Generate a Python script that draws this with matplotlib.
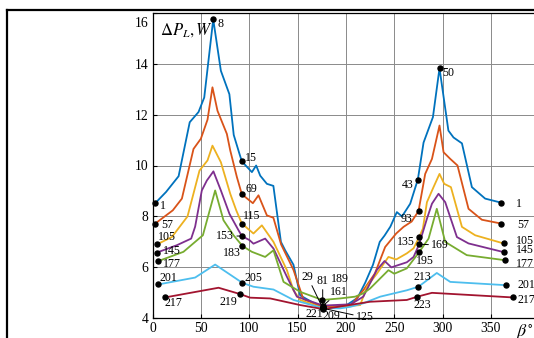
import matplotlib
matplotlib.use('Agg')
import matplotlib.pyplot as plt
from matplotlib.lines import Line2D

plt.rcParams['font.family'] = ['Liberation Serif', 'DejaVu Serif']
plt.rcParams['mathtext.fontset'] = 'stix'

# ---- data (beta in degrees, loss in W) ----
x1 = [2.8, 14, 27, 38.5, 47.6, 53.5, 62.8, 70.7, 79.5, 84, 90, 92.4, 102.8, 107.2, 111.4, 118.3, 125,
      132.8, 137.2, 145.8, 152.7, 176, 200, 212, 220, 228, 235, 240, 246, 252.7, 258, 266.5, 274.4,
      280.3, 290, 296.8, 306, 311.3, 320, 330.3, 344, 360.6]
y1 = [8.52, 8.96, 9.58, 11.7, 12.1, 12.67, 15.74, 13.72, 12.8, 11.2, 10.45, 10.16, 9.74, 10.0, 9.6, 9.28, 9.2,
      7.0, 6.67, 6.1, 4.9, 4.4, 4.5, 4.8, 5.4, 6.1, 7.0, 7.25, 7.6, 8.17, 8.0, 8.5, 9.45,
      10.9, 11.9, 13.82, 11.37, 11.1, 10.87, 9.15, 8.7, 8.54]
x2 = [2.8, 21, 30.4, 42.4, 50, 56.9, 62, 67.2, 76.9, 80.4, 87.3, 92.4, 103.8, 109.6, 118.3, 125, 133,
      145.8, 156, 176, 205, 218, 230, 240.6, 252, 259.6, 268, 275.1, 282, 289, 296.8, 301, 307.9,
      315.4, 326.8, 340.6, 360.6]
y2 = [7.72, 8.24, 8.7, 10.65, 11.05, 11.8, 13.07, 12.15, 11.24, 10.59, 9.54, 8.87, 8.52, 8.83, 8.04, 7.95, 6.9,
      5.9, 4.75, 4.45, 4.5, 5.1, 5.76, 6.8, 7.33, 7.59, 7.8, 8.21, 9.67, 10.26, 11.57, 10.52, 10.26,
      10.0, 8.3, 7.87, 7.72]
x3 = [4.5, 20, 36.2, 48.6, 56.9, 62, 70.7, 80.4, 86.6, 92.4, 104.4, 113.1, 125.1, 139, 145.8, 152.7,
      176.5, 214.8, 221.7, 232, 244, 252, 263, 270, 275.8, 279.6, 283.8, 290.6, 296.8, 301.7, 308.6,
      320, 333.7, 363]
y3 = [6.9, 7.19, 8.0, 9.8, 10.2, 10.78, 10.13, 8.89, 8.24, 7.72, 7.33, 7.65, 7.0, 5.89, 5.1, 4.72,
      4.39, 4.52, 5.24, 5.75, 6.41, 6.31, 6.55, 6.75, 7.19, 7.52, 8.56, 9.15, 9.67, 9.28, 9.15,
      7.59, 7.26, 6.94]
x4 = [4.5, 25.2, 40, 44.1, 51, 56.2, 63, 70.7, 79.6, 88.9, 92.4, 100.3, 104.4, 116.5, 125.1, 139, 149.3,
      176.5, 205, 218, 232, 240, 247, 263, 270, 275.8, 283.8, 289, 295.8, 302.7, 314.8, 326.8, 363]
y4 = [6.58, 6.87, 7.13, 7.6, 9.02, 9.41, 9.77, 9.02, 8.1, 7.46, 7.23, 7.07, 6.93, 7.13, 6.74, 5.63, 4.85,
      4.5, 4.55, 4.85, 5.9, 6.25, 6.0, 6.2, 6.41, 6.91, 7.91, 8.5, 8.89, 8.56, 7.19, 6.94, 6.6]
x5 = [6.2, 32, 52.1, 64.8, 73.4, 83.8, 93, 102.8, 116.5, 125.1, 135.5, 152.7, 175.5, 194, 209.6, 218,
      225, 244, 250, 263, 275.8, 285.5, 294, 302.7, 325, 364.7]
y5 = [6.25, 6.61, 7.26, 9.02, 7.85, 7.26, 6.84, 6.61, 6.41, 6.67, 5.43, 5.04, 4.72, 4.78, 4.85, 4.98,
      5.17, 5.89, 5.75, 5.96, 6.6, 7.13, 8.3, 7.0, 6.48, 6.28]
x6 = [6.2, 44.1, 64.8, 93, 104.4, 125.1, 145.8, 176, 194, 204.4, 218, 235.5, 263, 275, 294, 307.9, 365.8]
y6 = [5.33, 5.6, 6.11, 5.39, 5.24, 5.13, 4.72, 4.4, 4.39, 4.45, 4.59, 4.85, 5.1, 5.24, 5.78, 5.43, 5.3]
x7 = [13.1, 68.3, 90.7, 101, 121.7, 152.7, 176.5, 225, 263, 274, 289, 372.3]
y7 = [4.82, 5.2, 4.95, 4.81, 4.78, 4.52, 4.36, 4.65, 4.72, 4.85, 5.0, 4.82]

colors = ['#0072BD', '#D95319', '#EDB120', '#7E2F8E', '#77AC30', '#4DBEEE', '#A2142F']

# point labels: (vertex index, text, dx pt, dy pt, leader line)
lab1 = [(0, '1', 5.5, -1.7, 0), (6, '8', 5.5, -3.6, 0), (11, '15', 6.5, 2.4, 0), (21, '29', -10.8, 22.5, 1),
        (32, '43', -7.5, -4.3, 0), (35, '50', 6.5, -3.2, 0), (41, '1', 12.5, -0.7, 0)]
lab2 = [(0, '57', 8.4, -1.2, 0), (11, '69', 7.2, 4.1, 0), (19, '81', 0, 18.7, 1),
        (27, '93', -8.9, -5.5, 0), (36, '57', 15.6, -1.2, 0)]
lab3 = [(0, '105', 7.2, 5.3, 0), (9, '115', 7.2, 5.3, 0), (16, '125', 30, -6.5, 1),
        (24, '135', -9.6, -3.6, 0), (33, '105', 15.6, 1.9, 0)]
lab4 = [(0, '145', 10.8, 1.2, 0), (10, '153', -12, 0, 1), (17, '161', 11.5, 9.9, 1),
        (25, '169', 15, -0.7, 1), (32, '145', 15.6, 1.7, 0)]
lab5 = [(0, '177', 9.6, -2.4, 0), (6, '183', -7.6, -4.8, 0), (12, '189', 12.5, 14.9, 0),
        (20, '195', 4.3, -6.2, 0), (25, '177', 14.4, -2.9, 0)]
lab6 = [(0, '201', 7.2, 4.3, 0), (3, '205', 7.9, 3.6, 0), (7, '209', 6, -5.8, 0),
        (13, '213', 3.2, 7.2, 0), (16, '201', 14.9, 0, 0)]
lab7 = [(0, '217', 6, -4.3, 0), (2, '219', -8.4, -5.5, 0), (6, '221', -6.5, -3.6, 0),
        (9, '223', 3.2, -6, 0), (11, '217', 9.8, -1.9, 0)]

series = [(x1, y1, lab1), (x2, y2, lab2), (x3, y3, lab3), (x4, y4, lab4),
          (x5, y5, lab5), (x6, y6, lab6), (x7, y7, lab7)]

fig = plt.figure(figsize=(5.34, 3.38), dpi=100)
ax = fig.add_axes([152.5/534, 19.7/338, 400*0.967/534, 305.6/338])

for (xs, ys, labs), c in zip(series, colors):
    ax.plot(xs, ys, color=c, lw=1.3, zorder=3)

for xs, ys, labs in series:
    for i, t, dx, dy, lead in labs:
        ax.plot(xs[i], ys[i], 'o', color='k', ms=3.6, zorder=5, clip_on=False)
        kw = {}
        if lead:
            kw['arrowprops'] = dict(arrowstyle='-', color='k', lw=0.7, shrinkA=0, shrinkB=1)
        ax.annotate(t, xy=(xs[i], ys[i]), xytext=(dx, dy), textcoords='offset points',
                    ha='center', va='center', fontsize=8.6, zorder=6, annotation_clip=False, **kw)

ax.set_xlim(0, 400)
ax.set_ylim(4, 16)
ax.set_xticks(range(0, 351, 50))
ax.set_yticks(range(4, 17, 2))
ax.set_yticklabels([str(v) if v < 16 else '' for v in range(4, 17, 2)])
ax.annotate('16', xy=(0, 16), xycoords=('axes fraction', 'data'), xytext=(-3, -8),
            textcoords='offset points', ha='right', va='center', fontsize=9.8)
ax.grid(True, color='#8a8a8a', lw=0.7)
ax.set_axisbelow(True)
ax.tick_params(direction='in', length=3, labelsize=9.8, pad=3)
ax.spines['right'].set_visible(False)
for s in ['left', 'bottom', 'top']:
    ax.spines[s].set_linewidth(0.9)

ax.annotate(r'$\Delta P_L,W$', xy=(0, 1), xycoords='axes fraction', xytext=(5.2, -12.5),
            textcoords='offset points', ha='left', va='center', fontsize=12)
fig.text(525/534, 1 - 332/338, r'$\beta^{\circ}$', ha='center', va='center', fontsize=13)

# outer frame (only left and top visible in the crop)
fig.add_artist(Line2D([7/534, 7/534], [0, 1 - 10/338], color='k', lw=1.6))
fig.add_artist(Line2D([7/534, 1], [1 - 10/338, 1 - 10/338], color='k', lw=1.6))

fig.savefig('out.png', dpi=100)
